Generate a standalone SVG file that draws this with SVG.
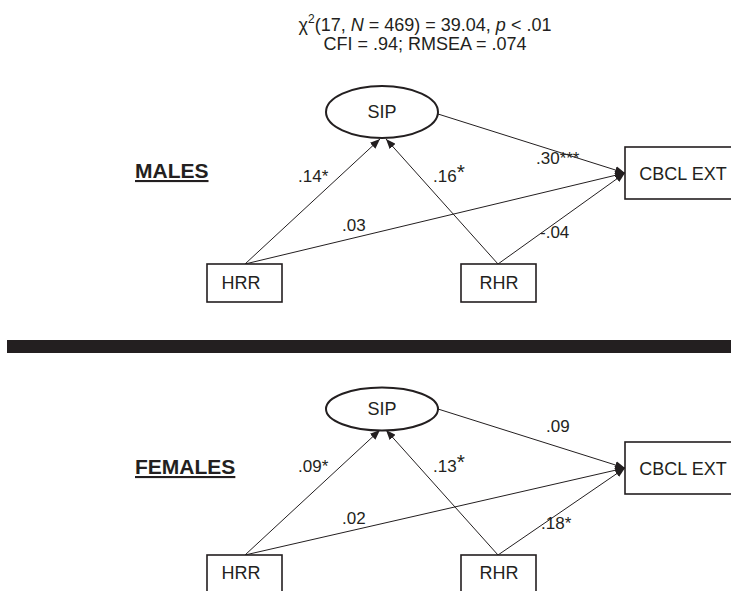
<svg xmlns="http://www.w3.org/2000/svg" width="731" height="591" viewBox="0 0 731 591">
<style>
text{font-family:"Liberation Sans",Arial,sans-serif;fill:#231f20}
.t{font-size:18px;text-anchor:middle}
.lbl{font-size:17px}
.node{fill:#fff;stroke:#231f20;stroke-width:1.6}
ellipse.node{stroke-width:2}
.nt{font-size:18px;text-anchor:middle}
.edge{stroke:#231f20;stroke-width:1;fill:none;marker-end:url(#ah)}
.grp{font-size:21px;font-weight:bold;text-decoration:underline}
.big{font-size:21px}
</style>
<defs>
<marker id="ah" viewBox="0 0 10 8" refX="10" refY="4" markerWidth="10" markerHeight="8" markerUnits="userSpaceOnUse" orient="auto">
<path d="M0,0 L10,4 L0,8 Z" fill="#231f20"/>
</marker>
</defs>
<rect width="731" height="591" fill="#fff"/>
<text class="t" x="425" y="31">χ<tspan font-size="12" dy="-8">2</tspan><tspan dy="8">(17, </tspan><tspan font-style="italic">N</tspan> = 469) = 39.04, <tspan font-style="italic">p</tspan> &lt; .01</text>
<text class="t" x="425" y="50">CFI = .94; RMSEA = .074</text>

<g id="connectors">
<line class="edge" x1="438" y1="114" x2="625" y2="173"/>
<line class="edge" x1="245" y1="264" x2="625" y2="173"/>
<line class="edge" x1="498" y1="264" x2="625" y2="173"/>
<line class="edge" x1="245" y1="264" x2="380" y2="139"/>
<line class="edge" x1="498" y1="264" x2="386" y2="139"/>
<line class="edge" x1="438" y1="409" x2="625" y2="468"/>
<line class="edge" x1="245" y1="555" x2="625" y2="468"/>
<line class="edge" x1="498" y1="555" x2="625" y2="468"/>
<line class="edge" x1="245" y1="555" x2="380" y2="430"/>
<line class="edge" x1="498" y1="555" x2="386" y2="430"/>
</g>

<g id="labels-m">
<text class="lbl" x="536" y="164">.30***</text>
<text class="lbl" x="298" y="182">.14*</text>
<text class="lbl" x="433" y="182">.16<tspan class="big" dy="-3">*</tspan></text>
<text class="lbl" x="342" y="231">.03</text>
<text class="lbl" x="540" y="238">-.04</text>
<text class="grp" x="135" y="178">MALES</text>
</g>

<g id="sip-m"><ellipse class="node" cx="382" cy="112" rx="56" ry="26"/><text class="nt" x="382" y="118">SIP</text></g>
<g id="cbcl-m"><rect class="node" x="625" y="147" width="115" height="52"/><text class="nt" x="683" y="180">CBCL EXT</text></g>
<g id="hrr-m"><rect class="node" x="207" y="264" width="75" height="38"/><text class="nt" x="241" y="289">HRR</text></g>
<g id="rhr-m"><rect class="node" x="461" y="264" width="75" height="38"/><text class="nt" x="499" y="289">RHR</text></g>

<rect id="divider" x="7" y="340" width="730" height="13" fill="#231f20"/>

<g id="labels-f">
<text class="lbl" x="546" y="432">.09</text>
<text class="lbl" x="298" y="472">.09*</text>
<text class="lbl" x="433" y="472">.13<tspan class="big" dy="-3">*</tspan></text>
<text class="lbl" x="342" y="524">.02</text>
<text class="lbl" x="541" y="529">.18*</text>
<text class="grp" x="135" y="474">FEMALES</text>
</g>

<g id="sip-f"><ellipse class="node" cx="382" cy="409" rx="56" ry="21.5"/><text class="nt" x="382" y="415">SIP</text></g>
<g id="cbcl-f"><rect class="node" x="625" y="442" width="115" height="52"/><text class="nt" x="683" y="475">CBCL EXT</text></g>
<g id="hrr-f"><rect class="node" x="207" y="555" width="75" height="40"/><text class="nt" x="241" y="579">HRR</text></g>
<g id="rhr-f"><rect class="node" x="461" y="555" width="75" height="40"/><text class="nt" x="499" y="579">RHR</text></g>
</svg>
